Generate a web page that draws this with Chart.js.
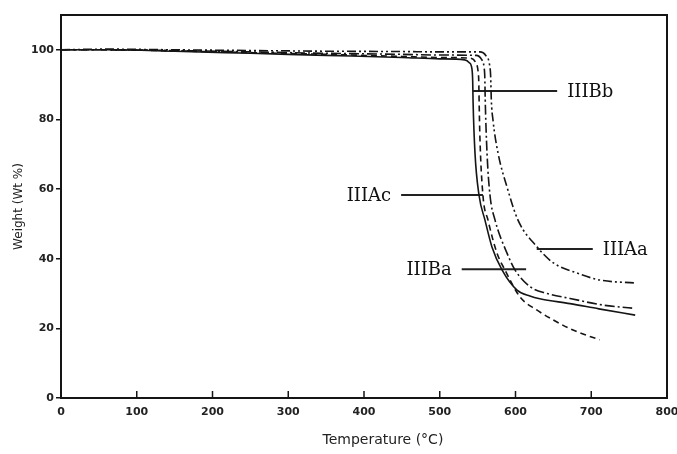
<!DOCTYPE html>
<html lang="en">
<head>
<meta charset="UTF-8">
<title>TGA</title>
<script src="https://cdn.jsdelivr.net/npm/chart.js@4"></script>
<style>
    html, body { margin: 0; padding: 0; background: #fff; }
</style>
</head>
<body>
<canvas id="tga" width="677" height="454"></canvas>
<script>

    // courbes ATG : température (°C) / masse restante (% pds)
    const tempBb = [0, 60, 150, 250, 350, 450, 500, 533, 539, 542.5, 543.5, 544, 546.5, 551.8, 559.7, 568.9, 582.2, 602, 619, 632, 672, 710, 758];
    const wtBb   = [100, 100, 99.6, 99, 98.4, 97.8, 97.4, 97.1, 96.3, 94.5, 91, 85, 70.4, 58.3, 51.1, 43.4, 36.8, 31, 29.3, 28.5, 27.1, 25.6, 23.8];

    const tempAc = [0, 60, 150, 250, 350, 450, 500, 540, 547, 550.5, 551.5, 552, 553, 557, 563.7, 575.6, 586, 606, 628, 650, 676, 711];
    const wtAc   = [100, 100, 99.7, 99.2, 98.7, 98.1, 97.8, 97.6, 96.5, 94, 91, 85, 75, 58.3, 51.1, 41.6, 36.8, 29, 25.3, 22.4, 19.5, 16.7];

    const tempBa = [0, 60, 150, 250, 350, 450, 500, 548, 555, 558.5, 559.5, 560, 562.4, 566.3, 573, 588.8, 599.3, 619, 642, 672, 715, 754];
    const wtBa   = [100, 100, 99.8, 99.4, 99, 98.7, 98.5, 98.4, 97.3, 95, 92, 86, 70.4, 58.3, 51.1, 41.6, 36.8, 32, 30, 28.6, 26.7, 25.8];

    const tempAa = [0, 60, 150, 250, 350, 450, 500, 553, 561, 565.5, 567.3, 568, 570.3, 576.9, 588.8, 603.3, 628.4, 650, 681, 711, 760];
    const wtAa   = [100, 100.2, 100, 99.8, 99.6, 99.5, 99.4, 99.4, 98.3, 96, 92, 86, 79.8, 70.4, 60.6, 51.1, 43.4, 38.8, 35.9, 33.9, 33];

    // repères des échantillons
    const repNoms  = ['IIIBb', 'IIIAc', 'IIIBa', 'IIIAa'];
    const repDebut = [544, 449, 529, 628];
    const repFin   = [655, 557, 614, 702];
    const repNiveau = [88.2, 58.3, 37, 42.8];
    const repCote  = ['droite', 'gauche', 'gauche', 'droite'];

    const titreX = 'Temperature (°C)';
    const encre = '#151515';

    let points = (xs, ys) => xs.map((x, i) => ({ x: x, y: ys[i] }));

    let courbe = (nom, xs, ys, tirets) => ({
        label: nom,
        data: points(xs, ys),
        borderColor: encre,
        borderWidth: 1.6,
        borderDash: tirets,
        pointRadius: 0,
        cubicInterpolationMode: 'monotone',
        fill: false
    });

    let datasets = [
        courbe('IIIBb', tempBb, wtBb, []),
        courbe('IIIAc', tempAc, wtAc, [6, 4]),
        courbe('IIIBa', tempBa, wtBa, [10, 3, 2, 3]),
        courbe('IIIAa', tempAa, wtAa, [9, 3, 2, 3, 2, 3])
    ];

    // traits de rappel
    repNoms.forEach((nom, i) => {
        datasets.push({
            label: 'rappel ' + nom,
            data: [{ x: repDebut[i], y: repNiveau[i] }, { x: repFin[i], y: repNiveau[i] }],
            borderColor: '#222',
            borderWidth: 2,
            pointRadius: 0,
            tension: 0
        });
    });

    // cadre, graduations internes sur x, titre de l'axe x, noms des échantillons
    const habillage = {
        id: 'habillage',
        afterDatasetsDraw(chart) {
            let ctx = chart.ctx;
            let zone = chart.chartArea;
            let sx = chart.scales.x;
            let sy = chart.scales.y;
            ctx.save();
            ctx.strokeStyle = encre;
            ctx.lineWidth = 2;
            ctx.strokeRect(zone.left, zone.top, zone.right - zone.left, zone.bottom - zone.top);

            ctx.lineWidth = 1.5;
            sx.ticks.forEach(t => {
                let px = sx.getPixelForValue(t.value);
                ctx.beginPath();
                ctx.moveTo(px, zone.bottom);
                ctx.lineTo(px, zone.bottom - 7);
                ctx.stroke();
            });

            // titre un peu décalé vers la droite, comme sur la planche
            ctx.fillStyle = '#222';
            ctx.font = '14px "DejaVu Sans"';
            ctx.textAlign = 'center';
            ctx.textBaseline = 'middle';
            ctx.fillText(titreX, sx.getPixelForValue(425), zone.bottom + 42);

            ctx.fillStyle = '#111';
            ctx.font = '18px "DejaVu Serif"';
            repNoms.forEach((nom, i) => {
                let py = sy.getPixelForValue(repNiveau[i]) + 1;
                if (repCote[i] === 'droite') {
                    ctx.textAlign = 'left';
                    ctx.fillText(nom, sx.getPixelForValue(repFin[i]) + 10, py);
                } else {
                    ctx.textAlign = 'right';
                    ctx.fillText(nom, sx.getPixelForValue(repDebut[i]) - 10, py);
                }
            });
            ctx.restore();
        }
    };

    const policeAxes = { family: '"DejaVu Sans"', size: 11, weight: 'bold' };

    new Chart(document.getElementById('tga'), {
        type: 'line',
        data: { datasets: datasets },
        plugins: [habillage],
        options: {
            responsive: false,
            animation: false,
            devicePixelRatio: 1,
            layout: { padding: { top: 15, right: 10, left: 0, bottom: 0 } },
            plugins: { legend: { display: false }, tooltip: { enabled: false } },
            scales: {
                x: {
                    type: 'linear',
                    min: 0,
                    max: 800,
                    afterFit: s => { s.height = 56; s.paddingLeft = 0; s.paddingRight = 0; },
                    ticks: { stepSize: 100, color: '#222', font: policeAxes, padding: 8, maxRotation: 0 },
                    grid: { drawOnChartArea: false, drawTicks: false },
                    border: { color: encre, width: 2 }
                },
                y: {
                    min: 0,
                    max: 110,
                    afterFit: s => { s.width = 61; s.paddingTop = 0; s.paddingBottom = 0; },
                    ticks: { stepSize: 20, includeBounds: false, color: '#222', font: policeAxes, padding: 2 },
                    grid: { drawOnChartArea: false, drawTicks: true, tickLength: 5, color: encre, lineWidth: 1.5 },
                    border: { color: encre, width: 2 },
                    title: {
                        display: true,
                        text: 'Weight (Wt %)',
                        color: '#222',
                        font: { family: '"DejaVu Sans"', size: 12 },
                        padding: { top: 12, bottom: 0 }
                    }
                }
            }
        }
    });

</script>
</body>
</html>
